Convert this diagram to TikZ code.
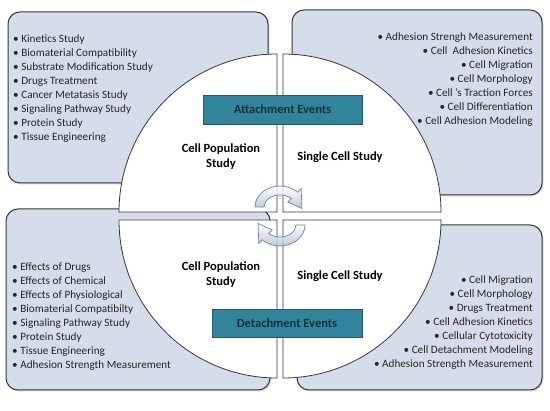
\documentclass[tikz,border=0pt]{standalone}
\usepackage{fontspec}
\setmainfont{Carlito}
\usepackage{tikz}
\usetikzlibrary{shadows}
\definecolor{panelfill}{RGB}{214,220,233}
\definecolor{paneldraw}{RGB}{55,55,55}
\definecolor{eventfill}{RGB}{49,132,155}
\definecolor{eventdraw}{RGB}{33,92,110}
\definecolor{eventtext}{RGB}{22,48,62}
\definecolor{cyclefill}{RGB}{178,192,212}
\definecolor{cycledraw}{RGB}{115,130,152}

\begin{document}
\begin{tikzpicture}[x=1pt,y=-1pt,
    panel/.style={draw=paneldraw, line width=1pt, fill=panelfill, rounded corners=12pt,
      drop shadow={opacity=0.3, shadow xshift=1.5pt, shadow yshift=-1.5pt}},
    quarter/.style={draw=paneldraw, line width=0.8pt, fill=white},
    event/.style={draw=eventdraw, line width=0.8pt, fill=eventfill, text=eventtext, inner sep=0pt,
      font=\bfseries\fontsize{12.5}{15}\selectfont},
    study/.style={align=center, inner sep=0pt, font=\bfseries\fontsize{12.5}{15}\selectfont},
    items/.style={inner sep=0pt, text=black!85, font=\fontsize{11.2}{14}\selectfont},
    cyclearrow/.style={draw=cycledraw, line width=0.7pt, top color=white, bottom color=cyclefill, fill opacity=0.85}]
    \useasboundingbox[fill=white] (0,0) rectangle (550,411);

    % four panels
    \draw[panel] (8,12) rectangle (268,183);
    \draw[panel] (292,10) rectangle (542,195);
    \draw[panel] (6,209) rectangle (270,390);
    \draw[panel] (297,225) rectangle (542,390);

    % lists
    \node[items, anchor=north west, align=left] (attpop) at (13,34.5) {%
      \textbullet\ Kinetics Study\\ \textbullet\ Biomaterial Compatibility\\
      \textbullet\ Substrate Modification Study\\ \textbullet\ Drugs Treatment\\
      \textbullet\ Cancer Metatasis Study\\ \textbullet\ Signaling Pathway Study\\
      \textbullet\ Protein Study\\ \textbullet\ Tissue Engineering};
    \node[items, anchor=north east, align=right] (attcell) at (533,32.5) {%
      \textbullet\ Adhesion Strengh Measurement\\ \textbullet\ Cell\ \ Adhesion Kinetics\\
      \textbullet\ Cell Migration\\ \textbullet\ Cell Morphology\\
      \textbullet\ Cell 's Traction Forces\\ \textbullet\ Cell Differentiation\\
      \textbullet\ Cell Adhesion Modeling};
    \node[items, anchor=north west, align=left] (detpop) at (12,262.5) {%
      \textbullet\ Effects of Drugs\\ \textbullet\ Effects of Chemical\\
      \textbullet\ Effects of Physiological\\ \textbullet\ Biomaterial Compatibilty\\
      \textbullet\ Signaling Pathway Study\\ \textbullet\ Protein Study\\
      \textbullet\ Tissue Engineering\\ \textbullet\ Adhesion Strength Measurement};
    \node[items, anchor=north east, align=right] (detcell) at (533,275.5) {%
      \textbullet\ Cell Migration\\ \textbullet\ Cell Morphology\\
      \textbullet\ Drugs Treatment\\ \textbullet\ Cell Adhesion Kinetics\\
      \textbullet\ Cellular Cytotoxicity\\ \textbullet\ Cell Detachment Modeling\\
      \textbullet\ Adhesion Strength Measurement};

    % circle in four quarters
    \draw[quarter] (277,212) -- (119,212) arc[start angle=180, end angle=270, radius=158] -- cycle;
    \draw[quarter] (283,212) -- (283,54) arc[start angle=270, end angle=360, radius=158] -- cycle;
    \draw[quarter] (283,220) -- (441,220) arc[start angle=0, end angle=90, radius=158] -- cycle;
    \draw[quarter] (277,220) -- (277,378) arc[start angle=90, end angle=180, radius=158] -- cycle;

    % turning arrows
    \begin{scope}[shift={(280,207)}]
      \draw[cyclearrow] (180:25 and 21) arc[start angle=180, end angle=315, x radius=25, y radius=21]
        -- (315:30 and 26) -- (5:22 and 17) -- (315:11 and 7) -- (315:16 and 12)
        arc[start angle=315, end angle=180, x radius=16, y radius=12] -- cycle;
    \end{scope}
    \begin{scope}[shift={(280,225)}]
      \draw[cyclearrow] (0:25 and 21) arc[start angle=0, end angle=135, x radius=25, y radius=21]
        -- (135:30 and 26) -- (185:22 and 17) -- (135:11 and 7) -- (135:16 and 12)
        arc[start angle=135, end angle=0, x radius=16, y radius=12] -- cycle;
    \end{scope}

    % quarter titles
    \node[study] (toppop) at (221,157) {Cell Population\\Study};
    \node[study] (topcell) at (340,157) {Single Cell Study};
    \node[study] (botpop) at (221,275) {Cell Population\\Study};
    \node[study] (botcell) at (340,276) {Single Cell Study};

    % event labels
    \node[event, minimum width=159, minimum height=29] (attach) at (282.5,109.5) {Attachment Events};
    \node[event, minimum width=150, minimum height=28] (detach) at (287,323) {Detachment Events};
\end{tikzpicture}
\end{document}
